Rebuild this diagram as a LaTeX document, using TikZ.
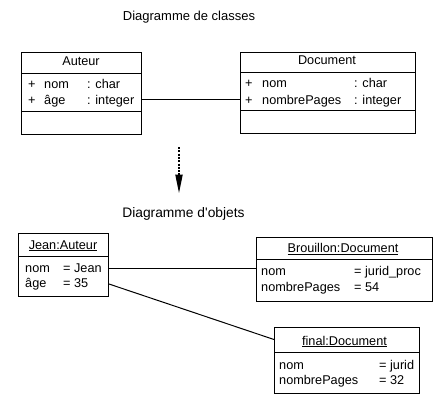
\documentclass[tikz,border=0pt]{standalone}
\usepackage{fontspec}
\setmainfont{Liberation Sans}[Ligatures=TeXOff]
\usetikzlibrary{arrows.meta}
\begin{document}
\begin{tikzpicture}[x=1pt,y=-1pt,
  box/.style={draw,line width=1pt,inner sep=0pt,anchor=north west},
  sepline/.style={line width=1pt},
  conn/.style={line width=1pt},
  txt/.style={inner sep=0pt,anchor=base west,font=\fontsize{12.7}{15}\selectfont},
  ctxt/.style={inner sep=0pt,anchor=base,font=\fontsize{12.7}{15}\selectfont},
  ttl/.style={inner sep=0pt,anchor=base,font=\fontsize{13}{15}\selectfont}]
\useasboundingbox (0,0) rectangle (439,400);

% titles
\node[ttl] (t1) at (189,20) {Diagramme de classes};
\node[ttl,font=\fontsize{13.8}{15}\selectfont] (t2) at (183.5,217) {Diagramme d'objets};

% class Auteur
\node[box,minimum width=120pt,minimum height=82pt] (aut) at (21,52) {};
\draw[sepline] ([yshift=-21pt]aut.north west) -- ([yshift=-21pt]aut.north east);
\draw[sepline] ([yshift=-59pt]aut.north west) -- ([yshift=-59pt]aut.north east);
\node[ctxt] (autn) at (81,65) {Auteur};
\node[txt] (autp1) at (28,88) {+};
\node[txt] (auta1) at (44,88) {nom};
\node[txt] (autt1) at (87,88) {: char};
\node[txt] (autp2) at (28,104.5) {+};
\node[txt] (auta2) at (44,104.5) {âge};
\node[txt] (autt2) at (87,104.5) {: integer};

% class Document
\node[box,minimum width=175pt,minimum height=81pt] (doc) at (240,52) {};
\draw[sepline] ([yshift=-20pt]doc.north west) -- ([yshift=-20pt]doc.north east);
\draw[sepline] ([yshift=-58pt]doc.north west) -- ([yshift=-58pt]doc.north east);
\node[ctxt] (docn) at (327,64) {Document};
\node[txt] (docp1) at (245,87.5) {+};
\node[txt] (doca1) at (262,87.5) {nom};
\node[txt] (doct1) at (354,87.5) {: char};
\node[txt] (docp2) at (245,104) {+};
\node[txt] (doca2) at (262,104) {nombrePages};
\node[txt] (doct2) at (354,104) {: integer};

\coordinate (l1) at (0,99.3);
\draw[conn] (aut.east |- l1) -- (doc.west |- l1);

% dotted arrow
\coordinate (as) at (179,147);
\coordinate (ae) at (179,193.5);
\draw[line width=2pt,dash pattern=on 2pt off 1.3pt,-{Triangle[width=7pt,length=19pt]}] (as) -- (ae);

% object Jean
\node[box,minimum width=90pt,minimum height=63pt] (jean) at (18,233) {};
\draw[sepline] ([yshift=-23pt]jean.north west) -- ([yshift=-23pt]jean.north east);
\node[ctxt] (jeann) at (63,249) {\underline{Jean:Auteur}};
\node[txt] (jeana1) at (25,272) {nom};
\node[txt] (jeanv1) at (63,272) {= Jean};
\node[txt] (jeana2) at (25,287) {âge};
\node[txt] (jeanv2) at (63,287) {= 35};

% object Brouillon
\node[box,minimum width=176pt,minimum height=64pt] (brou) at (256,237) {};
\draw[sepline] ([yshift=-22pt]brou.north west) -- ([yshift=-22pt]brou.north east);
\node[ctxt] (broun) at (343,252.7) {\underline{Brouillon:Document}};
\node[txt] (broua1) at (261,275) {nom};
\node[txt] (brouv1) at (354,275) {= jurid\_proc};
\node[txt] (broua2) at (261,291) {nombrePages};
\node[txt] (brouv2) at (354,291) {= 54};

% object final
\node[box,minimum width=145pt,minimum height=66pt] (fin) at (274,327) {};
\draw[sepline] ([yshift=-25pt]fin.north west) -- ([yshift=-25pt]fin.north east);
\node[ctxt] (finn) at (344.5,345) {\underline{final:Document}};
\node[txt] (fina1) at (279,369) {nom};
\node[txt] (finv1) at (379,369) {= jurid};
\node[txt] (fina2) at (279,384) {nombrePages};
\node[txt] (finv2) at (379,384) {= 32};

% links
\coordinate (l2) at (0,268);
\draw[conn] (jean.east |- l2) -- (brou.west |- l2);
\coordinate (l3a) at (0,284);
\coordinate (l3b) at (0,339.5);
\draw[conn] (jean.east |- l3a) -- (fin.west |- l3b);
\end{tikzpicture}
\end{document}
